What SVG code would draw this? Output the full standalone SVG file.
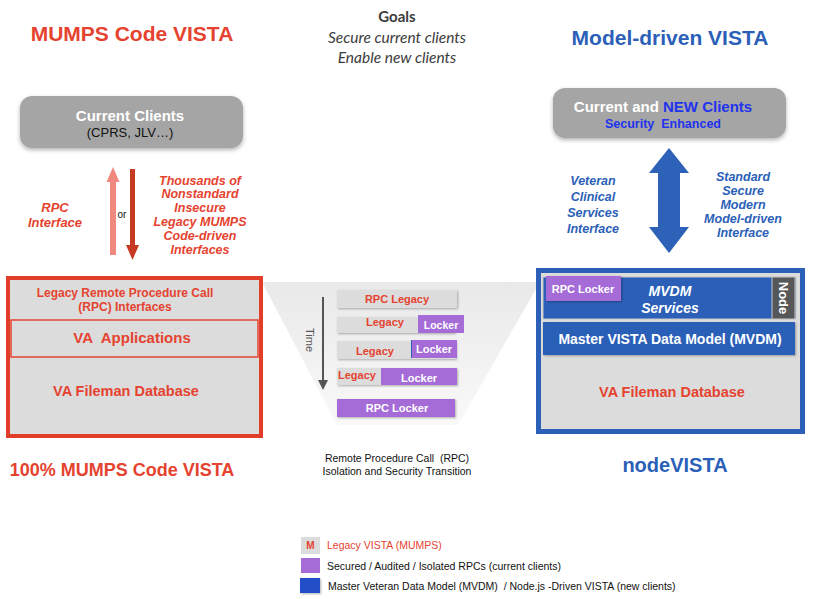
<svg xmlns="http://www.w3.org/2000/svg" width="820" height="599" viewBox="0 0 820 599">
<defs>
<linearGradient id="funnel" x1="0" y1="0" x2="0" y2="1">
<stop offset="0" stop-color="#e9e9ea"/>
<stop offset="1" stop-color="#f9f9f9"/>
</linearGradient>
<filter id="sh" x="-10%" y="-10%" width="130%" height="140%">
<feDropShadow dx="0" dy="2" stdDeviation="2" flood-color="#000" flood-opacity="0.3"/>
</filter>
<filter id="sh2" x="-10%" y="-20%" width="130%" height="160%">
<feDropShadow dx="1" dy="1" stdDeviation="1" flood-color="#000" flood-opacity="0.3"/>
</filter>
<marker id="timehead" viewBox="0 0 10 10" refX="5" refY="5" markerWidth="5" markerHeight="5" orient="auto">
<path d="M0,0 L10,5 L0,10 z" fill="#555"/>
</marker>
</defs>
<style>
text{font-family:"Liberation Sans",Arial,sans-serif;}
.b{font-weight:bold;}
.i{font-style:italic;}
.red{fill:#e5432f;}
.blue{fill:#2b5fb8;}
.wh{fill:#ffffff;}
.c{text-anchor:middle;}
.gray{fill:#dcdcdd;}
.purple{fill:#a56cd8;}
.goal{font-family:Lato,"Open Sans",sans-serif;fill:#3c3c3c;}
</style>
<rect width="820" height="599" fill="#ffffff"/>

<g id="titles">
<text x="132" y="41" class="b red c" font-size="21">MUMPS Code VISTA</text>
<text x="397" y="22" class="goal b c" font-size="15">Goals</text>
<text x="397" y="43" class="goal i c" font-size="15.5">Secure current clients</text>
<text x="397" y="63" class="goal i c" font-size="15.5">Enable new clients</text>
<text x="670" y="45" class="b blue c" font-size="21">Model-driven VISTA</text>
<text x="122" y="476" class="b red c" font-size="18">100% MUMPS Code VISTA</text>
<text x="675" y="472" class="b blue c" font-size="20">nodeVISTA</text>
</g>

<g id="funnel-bg">
<polygon points="262,282 540,282 458,425 337,425" fill="url(#funnel)"/>
</g>

<g id="current-clients">
<rect x="20" y="96" width="223" height="52" rx="12" fill="#a5a5a5" filter="url(#sh)"/>
<text x="130" y="121" class="b wh c" font-size="15">Current Clients</text>
<text x="130" y="137" class="c" font-size="13" fill="#111">(CPRS, JLV…)</text>
</g>

<g id="new-clients">
<rect x="553" y="88" width="233" height="50" rx="12" fill="#a5a5a5" filter="url(#sh)"/>
<text x="663" y="112" class="b c" font-size="15"><tspan fill="#ffffff">Current and </tspan><tspan fill="#2233ee">NEW Clients</tspan></text>
<text x="663" y="128" class="b c" font-size="12.5" fill="#2233ee">Security&#160; Enhanced</text>
</g>

<g id="connectors">
<polygon points="113,167 119.5,182 116,182 116,255 110,255 110,182 106.5,182" fill="#f08880"/>
<polygon points="130,169 135,169 135,245 139,245 132.5,260 126,245 130,245" fill="#c63a22"/>
<polygon points="669,148 689,173 680,173 680,227 689,227 669,253 649,227 658,227 658,173 649,173" fill="#2d62b8"/>
<line x1="323" y1="297" x2="323" y2="385" stroke="#555" stroke-width="2" marker-end="url(#timehead)"/>
</g>

<g id="left-labels">
<text x="122" y="218" class="c" font-size="10" fill="#111">or</text>
<text class="b i red c" font-size="13"><tspan x="55" y="212">RPC</tspan><tspan x="55" y="227">Interface</tspan></text>
<text class="b i red c" font-size="12.5"><tspan x="200" y="185">Thousands of</tspan><tspan x="200" y="198">Nonstandard</tspan><tspan x="200" y="212">Insecure</tspan><tspan x="200" y="226">Legacy MUMPS</tspan><tspan x="200" y="240">Code-driven</tspan><tspan x="200" y="254">Interfaces</tspan></text>
</g>

<g id="right-labels">
<text class="b i blue c" font-size="12.5"><tspan x="593" y="185">Veteran</tspan><tspan x="593" y="201">Clinical</tspan><tspan x="593" y="217">Services</tspan><tspan x="593" y="233">Interface</tspan></text>
<text class="b i blue c" font-size="12.5"><tspan x="743" y="181">Standard</tspan><tspan x="743" y="195">Secure</tspan><tspan x="743" y="209">Modern</tspan><tspan x="743" y="223">Model-driven</tspan><tspan x="743" y="237">Interface</tspan></text>
</g>

<g id="mumps-vista">
<rect x="8" y="278" width="253" height="158" fill="#dcdcdd" stroke="#e23d28" stroke-width="4"/>
<rect x="11" y="320" width="247" height="37" fill="#dcdcdd" stroke="#e5432f" stroke-width="1.5"/>
<text class="b red c" font-size="12"><tspan x="125" y="297">Legacy Remote Procedure Call</tspan><tspan x="125" y="311">(RPC) Interfaces</tspan></text>
<text x="132" y="343" class="b red c" font-size="15">VA&#160; Applications</text>
<text x="126" y="396" class="b red c" font-size="14.5">VA Fileman Database</text>
</g>

<g id="transition">
<text transform="translate(306,340) rotate(90)" class="c" font-size="11" fill="#555">Time</text>
<rect x="337" y="290" width="120" height="18" class="gray" filter="url(#sh2)"/>
<text x="397" y="303" class="b red c" font-size="11">RPC Legacy</text>
<rect x="337" y="317" width="118" height="16" class="gray" filter="url(#sh2)"/>
<rect x="418" y="315" width="46" height="18" class="purple"/>
<text x="385" y="326" class="b red c" font-size="11">Legacy</text>
<text x="441" y="329" class="b wh c" font-size="10.5">Locker</text>
<rect x="337" y="341" width="119" height="18" class="gray" filter="url(#sh2)"/>
<rect x="411" y="340" width="46" height="18" class="purple"/>
<line x1="411.5" y1="340" x2="411.5" y2="358" stroke="#2b5fb8" stroke-width="1"/>
<text x="375" y="355" class="b red c" font-size="11">Legacy</text>
<text x="434" y="353" class="b wh c" font-size="11">Locker</text>
<rect x="337" y="368" width="120" height="17" class="gray" filter="url(#sh2)"/>
<rect x="381" y="368" width="76" height="17" class="purple"/>
<text x="357" y="379" class="b red c" font-size="11">Legacy</text>
<text x="419" y="382" class="b wh c" font-size="11">Locker</text>
<rect x="337" y="399" width="118" height="18" class="purple" filter="url(#sh2)"/>
<text x="397" y="412" class="b wh c" font-size="11">RPC Locker</text>
<text class="c" font-size="10.5" fill="#111"><tspan x="397" y="462">Remote Procedure Call&#160; (RPC)</tspan><tspan x="397" y="475">Isolation and Security Transition</tspan></text>
</g>

<g id="node-vista">
<rect x="538.5" y="270.5" width="264" height="161" fill="#dcdcdd" stroke="#2b5fb8" stroke-width="5"/>
<rect x="543" y="277" width="253" height="42" fill="#2b5fb8" stroke="#c8c8c8" stroke-width="1"/>
<rect x="772" y="277" width="23" height="42" fill="#555759" stroke="#c8c8c8" stroke-width="1"/>
<text transform="translate(779,298) rotate(90)" class="b wh c" font-size="13">Node</text>
<rect x="546" y="276" width="75" height="25" class="purple" filter="url(#sh2)"/>
<text x="583" y="293" class="b wh c" font-size="11">RPC Locker</text>
<text x="670" y="296" class="b i wh c" font-size="14">MVDM</text>
<text x="670" y="313" class="b i wh c" font-size="14">Services</text>
<rect x="543" y="322" width="252" height="33" fill="#2b5fb8" filter="url(#sh2)"/>
<text x="670" y="344" class="b wh c" font-size="14">Master VISTA Data Model (MVDM)</text>
<text x="672" y="397" class="b red c" font-size="14.5">VA Fileman Database</text>
</g>

<g id="legend">
<rect x="301" y="537" width="19" height="17" fill="#dcdcdd"/>
<text x="310.5" y="549" class="b red c" font-size="10">M</text>
<text x="327" y="549" class="red" font-size="10.5">Legacy VISTA (MUMPS)</text>
<rect x="301" y="558" width="19" height="15" class="purple"/>
<text x="327" y="570" font-size="10.5" fill="#111">Secured / Audited / Isolated RPCs (current clients)</text>
<rect x="300" y="578" width="20" height="15" fill="#2150c8" filter="url(#sh2)"/>
<text x="328" y="590" font-size="10.5" fill="#111">Master Veteran Data Model (MVDM)&#160; / Node.js -Driven VISTA (new clients)</text>
</g>
</svg>
